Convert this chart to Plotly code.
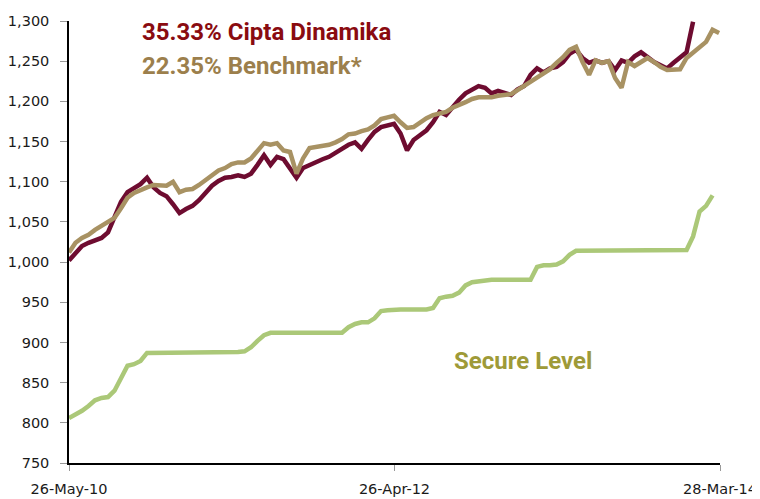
import pandas as pd
import plotly.graph_objects as go

# 14-day sampling grid from 26-May-2010
dates = pd.date_range("2010-05-26", periods=101, freq="14D")

cipta = [1002, 1012, 1020, 1024, 1027, 1030, 1037, 1055, 1075, 1087,
         1092, 1097, 1105, 1093, 1086, 1082, 1072, 1061, 1066, 1070,
         1077, 1086, 1095, 1101, 1105, 1106, 1108, 1106, 1110, 1121,
         1133, 1121, 1131, 1128, 1117, 1105, 1117, 1121, 1124, 1128,
         1131, 1136, 1141, 1146, 1149, 1141, 1152, 1162, 1168, 1170,
         1172, 1160, 1139, 1152, 1158, 1164, 1174, 1187, 1183, 1193,
         1202, 1210, 1215, 1219, 1217, 1210, 1213, 1210, 1208, 1215,
         1219, 1233, 1241, 1236, 1241, 1243, 1249, 1259, 1264, 1254,
         1248, 1251, 1248, 1250, 1239, 1251, 1248, 1256, 1261, 1255,
         1249, 1245, 1241, 1248, 1255, 1261, 1299, None, None, None, None]

benchmark = [1012, 1024, 1030, 1034, 1040, 1045, 1049, 1055, 1067, 1080,
             1086, 1090, 1093, 1096, 1096, 1095, 1100, 1087, 1090, 1091,
             1096, 1102, 1107, 1114, 1117, 1122, 1124, 1124, 1129, 1138,
             1148, 1146, 1148, 1139, 1137, 1110, 1129, 1142, 1143, 1144,
             1146, 1149, 1153, 1159, 1160, 1163, 1165, 1170, 1178, 1180,
             1182, 1174, 1167, 1168, 1174, 1179, 1183, 1185, 1187, 1192,
             1195, 1199, 1203, 1205, 1205, 1205, 1207, 1208, 1209, 1214,
             1219, 1225, 1230, 1235, 1240, 1248, 1255, 1264, 1268, 1249,
             1233, 1251, 1248, 1250, 1229, 1217, 1249, 1244, 1249, 1254,
             1249, 1243, 1239, 1239, 1240, 1254, 1261, 1268, 1274, 1289, 1285]

secure = [806, 810, 815, 821, 828, 831, 832, 840, 857, 871,
          873, 877, 887, 887, 887, 887, 887, 887, 887, 887,
          887, 887, 887, 887, 887, 887, 888, 889, 894, 902,
          909, 912, 912, 912, 912, 912, 912, 912, 912, 912,
          912, 912, 912, 919, 923, 925, 925, 930, 939, 940,
          941, 941, 941, 941, 941, 941, 943, 955, 957, 958,
          962, 971, 975, 976, 978, 978, 978, 978, 978, 978,
          978, 978, 994, 996, 996, 997, 1001, 1009, 1014, 1014,
          1014, 1014, 1014, 1014, 1014, 1014, 1014, 1014, 1014, 1014,
          1014, 1014, 1014, 1014, 1014, 1015, 1032, 1063, 1070, 1083, None]

x_ticks = ["2010-05-26", "2012-04-26", "2014-03-28"]
x_tick_labels = ["26-May-10", "26-Apr-12", "28-Mar-14"]

TICK_FONT = "DejaVu Sans"
TEXT_FONT = "Roboto"

fig = go.Figure()
fig.add_trace(go.Scatter(x=dates, y=secure, mode="lines", name="Secure Level",
                         line=dict(color="#abc878", width=4.5), connectgaps=False))
fig.add_trace(go.Scatter(x=dates, y=cipta, mode="lines", name="Cipta Dinamika",
                         line=dict(color="#6e0c30", width=4.5), connectgaps=False))
fig.add_trace(go.Scatter(x=dates, y=benchmark, mode="lines", name="Benchmark",
                         line=dict(color="#a89263", width=4.5), connectgaps=False))

# page body has an 8px default margin, so the figure is sized to fit the window
fig.update_layout(
    width=752, height=491,
    margin=dict(l=61, r=40, t=13, b=36, autoexpand=False),
    paper_bgcolor="white", plot_bgcolor="white",
    showlegend=False,
    font=dict(family=TICK_FONT, size=15, color="#1a1a1a"),
)
fig.update_xaxes(
    type="date", range=["2010-05-26", "2014-03-28"],
    tickvals=x_ticks, ticktext=x_tick_labels,
    showgrid=False, zeroline=False, automargin=False,
    showline=True, linecolor="black", linewidth=1.5,
    ticks="outside", ticklen=6, tickcolor="#999999",
    ticklabelstandoff=6,
    tickfont=dict(family=TICK_FONT, size=14.5, color="#1a1a1a"),
)
fig.update_yaxes(
    range=[750, 1300], tickvals=list(range(750, 1301, 50)),
    tickformat=",", showgrid=False, zeroline=False, automargin=False,
    showline=True, linecolor="black", linewidth=1.5,
    ticks="outside", ticklen=7, tickcolor="#999999",
    ticklabelstandoff=8,
    tickfont=dict(family=TICK_FONT, size=14.5, color="#1a1a1a"),
)

def ann(text, px, py, color):
    fig.add_annotation(
        x=(px - 69) / 651, y=(463 - py) / 442, xref="paper", yref="paper",
        xanchor="left", yanchor="middle", text="<b>" + text + "</b>",
        showarrow=False, font=dict(family=TEXT_FONT, size=24, color=color),
    )

ann("35.33% Cipta Dinamika", 140, 32, "#8a0b10")
ann("22.35% Benchmark*", 140, 66, "#9c7f4c")
ann("Secure Level", 452, 361, "#9e9a38")

fig.write_html("out.html")
